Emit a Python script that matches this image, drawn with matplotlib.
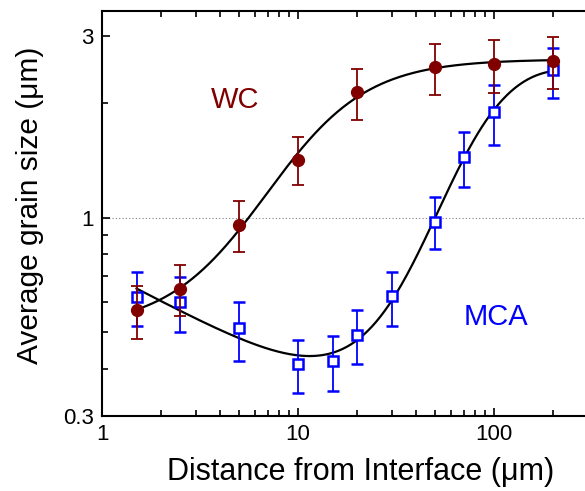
import numpy as np
import matplotlib.pyplot as plt
from matplotlib.ticker import LogLocator, FixedLocator, NullFormatter

plt.rcParams['font.family'] = ['Liberation Sans', 'DejaVu Sans']

# WC grain size vs distance
wc_x = [1.5, 2.5, 5, 10, 20, 50, 100, 200]
wc_y = [0.57, 0.647, 0.958, 1.42, 2.14, 2.49, 2.54, 2.58]
wc_hi = [0.66, 0.748, 1.108, 1.63, 2.46, 2.86, 2.93, 2.99]
wc_lo = [0.48, 0.55, 0.81, 1.22, 1.81, 2.10, 2.13, 2.18]

# MCA grain size vs distance
mca_x = [1.5, 2.5, 5, 10, 15, 20, 30, 50, 70, 100, 200]
mca_y = [0.617, 0.598, 0.511, 0.411, 0.419, 0.49, 0.621, 0.976, 1.446, 1.90, 2.45]
mca_hi = [0.717, 0.696, 0.598, 0.476, 0.487, 0.57, 0.717, 1.135, 1.68, 2.23, 2.80]
mca_lo = [0.518, 0.499, 0.419, 0.345, 0.349, 0.411, 0.518, 0.824, 1.206, 1.555, 2.065]

wc_col = '#800000'
mca_col = '#0000ff'

fig = plt.figure(figsize=(5.85, 4.91), dpi=100)
ax = fig.add_axes([0.1744, 0.1527, 0.830, 0.825])
ax.set_xscale('log')
ax.set_yscale('log')


def sig_fit(x, y, linear):
    # sigmoid (plus optional linear trend) in log-log space,
    # grid search on centre and width, least squares for the rest
    lx, ly = np.log10(x), np.log10(y)
    best = None
    for c in np.linspace(0.3, 2.2, 191):
        for w in np.linspace(0.04, 0.6, 113):
            s = 1 / (1 + np.exp(-(lx - c) / w))
            cols = [np.ones_like(s), s] + ([lx] if linear else [])
            A = np.vstack(cols).T
            coef = np.linalg.lstsq(A, ly, rcond=None)[0]
            err = np.sum((A @ coef - ly) ** 2)
            if best is None or err < best[0]:
                best = (err, c, w, coef)
    _, c, w, coef = best
    xs = np.linspace(lx[0], lx[-1], 300)
    s = 1 / (1 + np.exp(-(xs - c) / w))
    ys = coef[0] + coef[1] * s + (coef[2] * xs if linear else 0)
    return 10 ** xs, 10 ** ys


ax.axhline(1, color='gray', lw=0.8, ls=(0, (1, 2)), zorder=0)

fx, fy = sig_fit(np.array(wc_x), np.array(wc_y), False)
ax.plot(fx, fy, color='black', lw=1.6, zorder=2)
fx, fy = sig_fit(np.array(mca_x), np.array(mca_y), True)
ax.plot(fx, fy, color='black', lw=1.6, zorder=2)

mca_err = [np.array(mca_y) - np.array(mca_lo), np.array(mca_hi) - np.array(mca_y)]
ax.errorbar(mca_x, mca_y, yerr=mca_err, fmt='s', color=mca_col, mfc='white',
            mec=mca_col, ms=6.5, mew=1.8, elinewidth=1.3, capsize=4.5, capthick=1.3, zorder=3)
wc_err = [np.array(wc_y) - np.array(wc_lo), np.array(wc_hi) - np.array(wc_y)]
ax.errorbar(wc_x, wc_y, yerr=wc_err, fmt='o', color=wc_col, ms=8.5,
            elinewidth=1.3, capsize=4.5, capthick=1.3, zorder=4)

ax.set_xlim(1, 300)
ax.set_ylim(0.3, 3.5)

ax.xaxis.set_major_locator(FixedLocator([1, 10, 100]))
ax.xaxis.set_minor_locator(LogLocator(base=10, subs=np.arange(2, 10)))
ax.xaxis.set_minor_formatter(NullFormatter())
ax.set_xticklabels(['1', '10', '100'])
ax.yaxis.set_major_locator(FixedLocator([0.3, 1, 3]))
ax.yaxis.set_minor_locator(FixedLocator([0.4, 0.5, 0.6, 0.7, 0.8, 0.9, 2]))
ax.yaxis.set_minor_formatter(NullFormatter())
ax.set_yticklabels(['0.3', '1', '3'])

ax.tick_params(which='both', direction='in', top=True, right=False, labelsize=16, width=1.2)
ax.tick_params(which='major', length=6, pad=6)
ax.tick_params(which='minor', length=4)
for s in ['left', 'bottom', 'top']:
    ax.spines[s].set_linewidth(1.5)
ax.spines['right'].set_visible(False)

ax.set_xlabel('Distance from Interface (\u03bcm)', fontsize=22)
ax.set_ylabel('Average grain size (\u03bcm)', fontsize=21.5)
ax.xaxis.set_label_coords(0.533, -0.1)
ax.yaxis.set_label_coords(-0.12, 0.521)

ax.text(0.224, 0.76, 'WC', color=wc_col, fontsize=21, transform=ax.transAxes)
ax.text(0.745, 0.225, 'MCA', color=mca_col, fontsize=21, transform=ax.transAxes)

fig.savefig('out.png', dpi=100)
